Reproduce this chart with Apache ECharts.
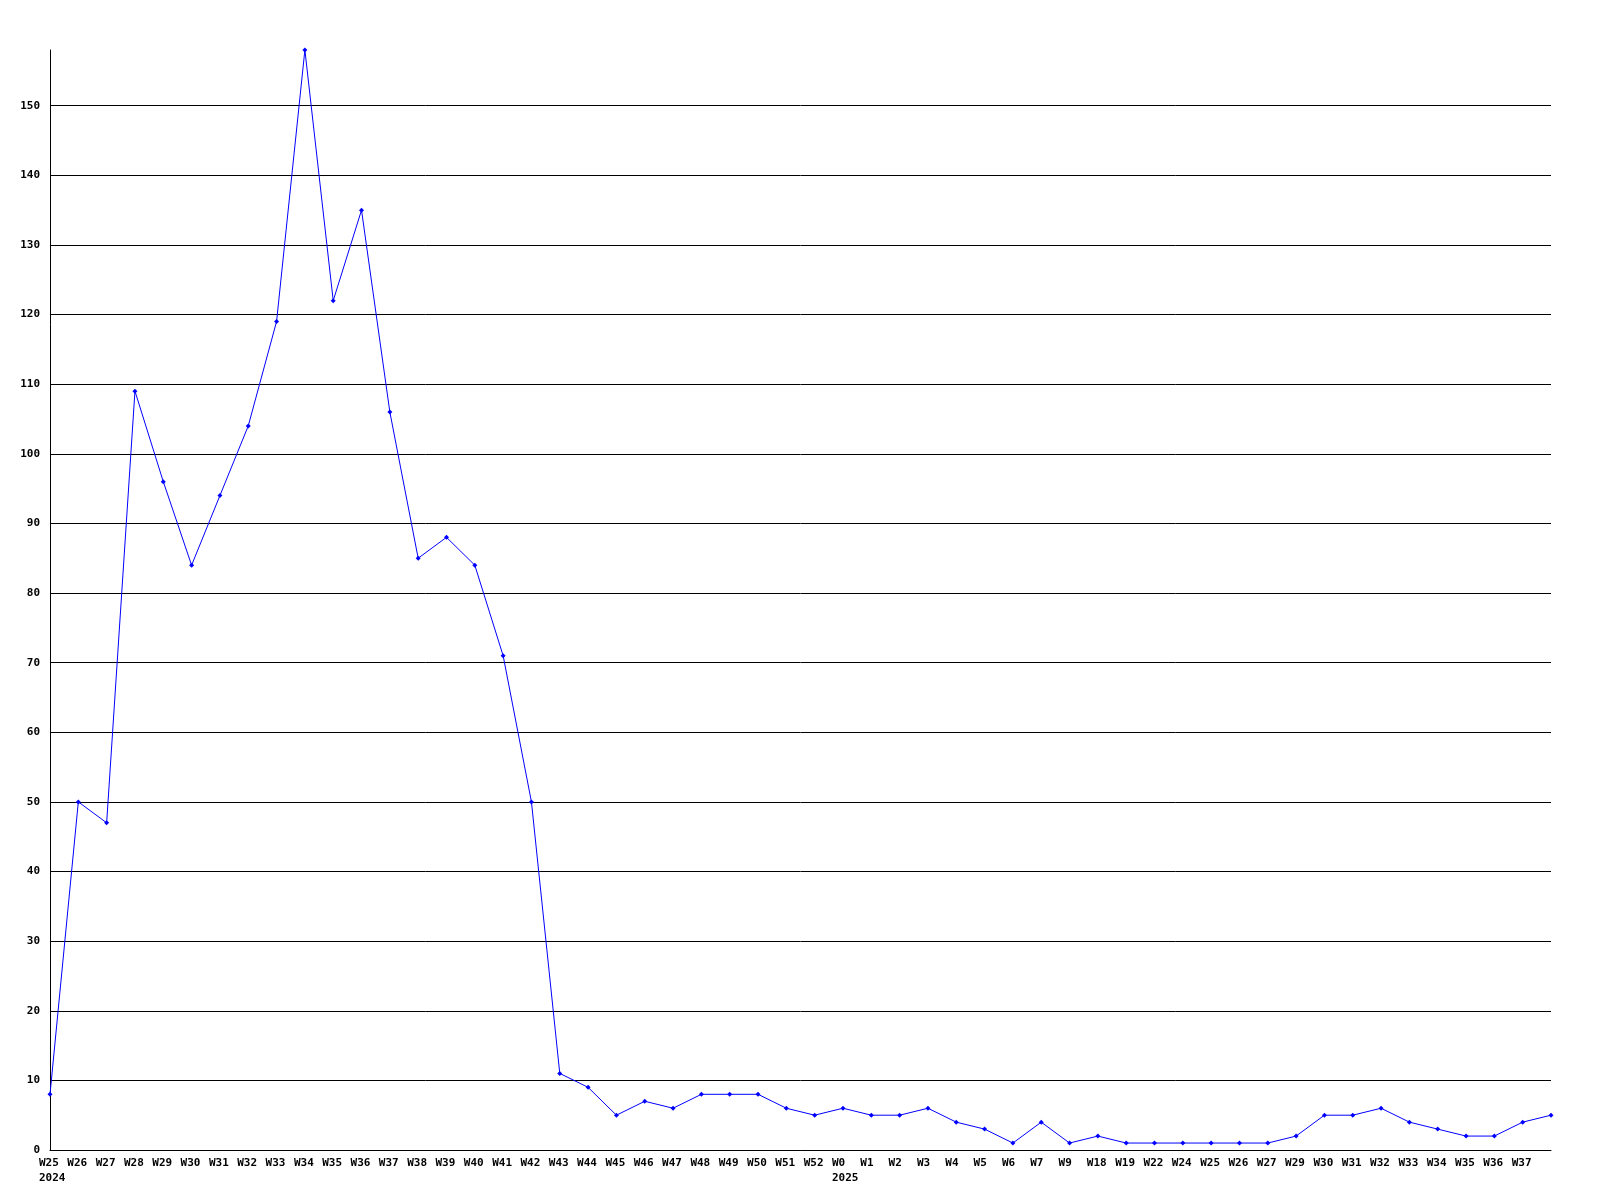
<!DOCTYPE html>
<html>
<head>
<meta charset="utf-8">
<script src="https://cdn.jsdelivr.net/npm/echarts@6/dist/echarts.min.js"></script>
<style>html,body{margin:0;padding:0;background:#fff}#c{width:1600px;height:1200px}</style>
</head>
<body>
<div id="c"></div>
<script>
const categories = ['W25','W26','W27','W28','W29','W30','W31','W32','W33','W34','W35','W36','W37','W38','W39','W40','W41','W42','W43','W44','W45','W46','W47','W48','W49','W50','W51','W52',
  'W0','W1','W2','W3','W4','W5','W6','W7','W9','W18','W19','W22','W24','W25','W26','W27','W29','W30','W31','W32','W33','W34','W35','W36','W37','W38'];
const yearLabels = {0: '2024', 28: '2025'};
const values = [8,50,47,109,96,84,94,104,119,158,122,135,106,85,88,84,71,50,11,9,5,7,6,8,8,8,6,5,
  6,5,5,6,4,3,1,4,1,2,1,1,1,1,1,1,2,5,5,6,4,3,2,2,4,5];
const yMax = 158;
const yStep = 10;

const chart = echarts.init(document.getElementById('c'), null, {renderer: 'canvas'});
const font = '"DejaVu Sans Mono", "Liberation Mono", monospace';
chart.setOption({
  animation: false,
  backgroundColor: '#ffffff',
  grid: {left: 50, right: 49, top: 50, bottom: 50, containLabel: false},
  xAxis: {
    type: 'category',
    data: categories,
    boundaryGap: false,
    axisLine: {show: true, lineStyle: {color: '#000', width: 1}},
    axisTick: {show: false},
    splitLine: {show: false},
    axisLabel: {
      interval: function (i) { return i < categories.length - 1; },
      color: '#000', fontFamily: font, fontWeight: 'bold', fontSize: 11,
      margin: 6, align: 'center',
      formatter: function (v, i) { return yearLabels[i] ? '{a|' + v + '}\n{a|' + yearLabels[i] + '}' : '{a|' + v + '}'; },
      rich: {a: {width: 22, align: 'left', lineHeight: 15, color: '#000', fontFamily: font, fontWeight: 'bold', fontSize: 11}}
    }
  },
  yAxis: {
    type: 'value',
    min: 0, max: yMax, interval: yStep,
    axisLine: {show: true, lineStyle: {color: '#000', width: 1}},
    axisTick: {show: false},
    splitLine: {show: true, showMaxLine: false, lineStyle: {color: '#000', width: 1}},
    axisLabel: {
      showMaxLabel: false,
      color: '#000', fontFamily: font, fontWeight: 'bold', fontSize: 11, margin: 10,
      formatter: function (v) { return v % yStep === 0 ? String(v) : ''; }
    }
  },
  series: [{
    type: 'line',
    data: values,
    smooth: false,
    symbol: 'diamond',
    symbolSize: 5,
    showAllSymbol: true,
    lineStyle: {color: '#0000ff', width: 1},
    itemStyle: {color: '#0000ff'},
    z: 5
  }]
});
</script>
</body>
</html>
